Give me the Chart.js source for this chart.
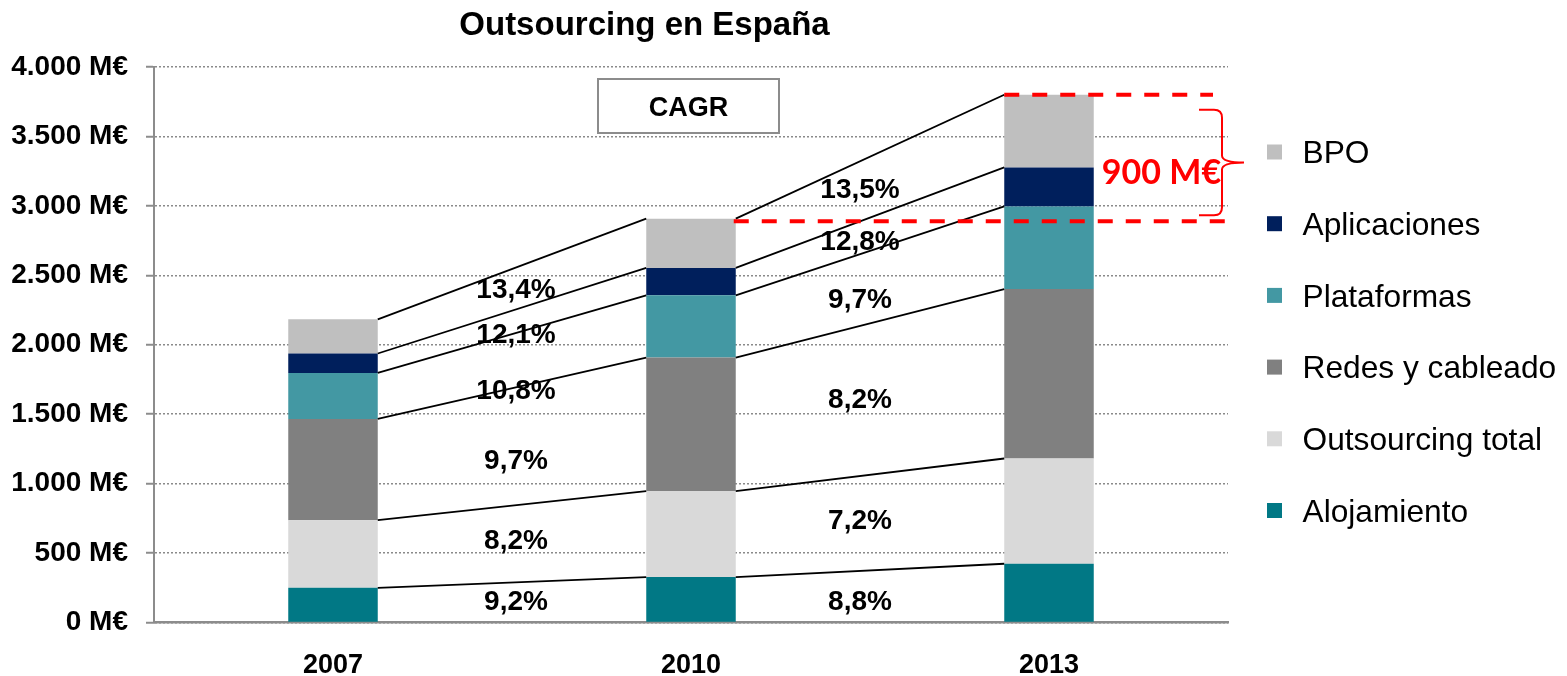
<!DOCTYPE html>
<html><head><meta charset="utf-8">
<script src="https://cdn.jsdelivr.net/npm/chart.js@4.4.1/dist/chart.umd.min.js"></script>
<style>html,body{margin:0;padding:0;background:#fff}#wrap{width:1567px;height:676px;position:relative}canvas{display:block}</style>
</head><body><div id="wrap"><canvas id="c" width="1567" height="676"></canvas></div>
<script>
// ---- data ----
const years = ['2007', '2010', '2013'];
const alojamiento = [250, 327, 423];
const outsourcingTotal = [487, 619, 758];
const redesCableado = [729, 962, 1220];
const plataformas = [331, 448, 595];
const aplicaciones = [140, 197, 281];
const bpo = [246, 355, 523];
const yTicks = [0, 500, 1000, 1500, 2000, 2500, 3000, 3500, 4000];
const cagr0710 = ['9,2%', '8,2%', '9,7%', '10,8%', '12,1%', '13,4%'];
const cagr1013 = ['8,8%', '7,2%', '8,2%', '9,7%', '12,8%', '13,5%'];
const cagrLabelAt0710 = [162, 601, 1180, 1680, 2083, 2406];
const cagrLabelAt1013 = [162, 745, 1615, 2335, 2755, 3127];
const gapLevels = [2890, 3800];
const gapLabel = '900 M€';
const boxLabel = 'CAGR';
const titleText = 'Outsourcing en España';

const FONT = "'Liberation Sans', Arial, sans-serif";

function fmtThousands(v) {
  if (v >= 1000) return Math.floor(v / 1000) + '.' + String(v % 1000).padStart(3, '0');
  return String(v);
}

function textC(ctx, txt, x, yMid, size, weight, family, align, capRatio) {
  ctx.font = (weight || 'normal') + ' ' + size + 'px ' + (family || FONT);
  ctx.textAlign = align || 'center';
  ctx.textBaseline = 'alphabetic';
  ctx.fillText(txt, x, yMid + (capRatio || 0.716) * size / 2);
}

const overlay = {
  id: 'overlay',
  afterDatasetsDraw(chart) {
    const ctx = chart.ctx;
    const ys = chart.scales.y, xs = chart.scales.x;
    const area = chart.chartArea;
    const ds = chart.data.datasets;
    const n = ds.length;
    const cum = [];
    for (let d = 0; d < n; d++) {
      cum.push(ds[d].data.map((v, i) => v + (d > 0 ? cum[d - 1][i] : 0)));
    }
    const bar = (d, i) => chart.getDatasetMeta(d).data[i];
    ctx.save();
    // connecting lines
    ctx.strokeStyle = '#000';
    ctx.lineWidth = 1.8;
    for (let d = 0; d < n; d++) {
      for (let i = 0; i < years.length - 1; i++) {
        const a = bar(d, i), b = bar(d, i + 1);
        ctx.beginPath();
        ctx.moveTo(a.x + a.width / 2, ys.getPixelForValue(cum[d][i]));
        ctx.lineTo(b.x - b.width / 2, ys.getPixelForValue(cum[d][i + 1]));
        ctx.stroke();
      }
    }
    // CAGR labels
    ctx.fillStyle = '#000';
    const xA = (xs.getPixelForValue(0) + xs.getPixelForValue(1)) / 2 + 4;
    const xB = (xs.getPixelForValue(1) + xs.getPixelForValue(2)) / 2 - 10;
    for (let d = 0; d < n; d++) {
      textC(ctx, cagr0710[d], xA, ys.getPixelForValue(cagrLabelAt0710[d]), 28, 'bold');
      textC(ctx, cagr1013[d], xB, ys.getPixelForValue(cagrLabelAt1013[d]), 28, 'bold');
    }
    // red dashed lines
    const yLow = ys.getPixelForValue(gapLevels[0]);
    const yUp = ys.getPixelForValue(gapLevels[1]);
    const b10 = bar(n - 1, 1), b13 = bar(n - 1, 2);
    ctx.strokeStyle = '#FF0000';
    ctx.lineWidth = 4;
    ctx.setLineDash([15, 13]);
    ctx.beginPath();
    ctx.moveTo(b13.x - b13.width / 2, yUp);
    ctx.lineTo(area.right - 15, yUp);
    ctx.stroke();
    ctx.beginPath();
    ctx.moveTo(b10.x + b10.width / 2 - 2, yLow);
    ctx.lineTo(area.right - 2, yLow);
    ctx.stroke();
    ctx.setLineDash([]);
    // brace
    const bt = yUp + 15, bb = yLow - 6, bm = (bt + bb) / 2;
    const sx = area.right - 6, hx = sx - 23, tx = sx + 22;
    ctx.lineWidth = 2;
    ctx.beginPath();
    ctx.moveTo(hx, bt);
    ctx.lineTo(sx - 8, bt);
    ctx.quadraticCurveTo(sx, bt, sx, bt + 8);
    ctx.lineTo(sx, bm - 7);
    ctx.quadraticCurveTo(sx, bm, tx, bm);
    ctx.quadraticCurveTo(sx, bm, sx, bm + 7);
    ctx.lineTo(sx, bb - 8);
    ctx.quadraticCurveTo(sx, bb, sx - 8, bb);
    ctx.lineTo(hx, bb);
    ctx.stroke();
    ctx.fillStyle = '#FF0000';
    textC(ctx, gapLabel, 1161.5, bm + 9, 34, 'bold', "Lato, 'Open Sans', sans-serif", 'center', 0.72);
    // CAGR box
    ctx.fillStyle = '#fff';
    ctx.fillRect(598, 79, 181, 54);
    ctx.strokeStyle = '#8c8c8c';
    ctx.lineWidth = 2;
    ctx.strokeRect(598, 79, 181, 54);
    ctx.fillStyle = '#000';
    textC(ctx, boxLabel, 688.5, 106, 27, 'bold');
    // title
    textC(ctx, titleText, 644.5, 23.5, 33, 'bold');
    // legend
    for (let d = n - 1, k = 0; d >= 0; d--, k++) {
      const cy = 152 + k * 71.7;
      ctx.fillStyle = ds[d].backgroundColor;
      ctx.fillRect(1267, cy - 7.5, 15, 15);
      ctx.fillStyle = '#000';
      textC(ctx, ds[d].label, 1302.5, cy, 31.7, 'normal', FONT, 'left');
    }
    ctx.restore();
  }
};

new Chart(document.getElementById('c'), {
  type: 'bar',
  data: {
    labels: years,
    datasets: [
      { label: 'Alojamiento', data: alojamiento, backgroundColor: '#017885' },
      { label: 'Outsourcing total', data: outsourcingTotal, backgroundColor: '#D9D9D9' },
      { label: 'Redes y cableado', data: redesCableado, backgroundColor: '#808080' },
      { label: 'Plataformas', data: plataformas, backgroundColor: '#4398A3' },
      { label: 'Aplicaciones', data: aplicaciones, backgroundColor: '#001F5C' },
      { label: 'BPO', data: bpo, backgroundColor: '#BFBFBF' }
    ]
  },
  options: {
    responsive: false,
    animation: false,
    devicePixelRatio: 1,
    layout: { padding: { top: 67, right: 339, left: 0, bottom: 0 } },
    datasets: { bar: { barPercentage: 0.25, categoryPercentage: 1.0 } },
    plugins: { legend: { display: false }, title: { display: false }, tooltip: { enabled: false } },
    scales: {
      x: {
        stacked: true,
        offset: true,
        grid: { display: false, drawTicks: false },
        border: { display: true, color: '#8c8c8c', width: 2.5 },
        ticks: { color: '#000', font: { family: FONT, weight: 'bold', size: 27 }, padding: 27 },
        afterFit(s) { s.height = 676 - 622.5; }
      },
      y: {
        stacked: true,
        min: 0,
        max: 4000,
        afterBuildTicks(s) { s.ticks = yTicks.map(v => ({ value: v })); },
        ticks: { color: '#000', font: { family: FONT, weight: 'bold', size: 28 }, padding: 18,
          callback: v => fmtThousands(v) + ' M€' },
        grid: { color: '#8a8a8a', lineWidth: 1.5, tickLength: 8, tickColor: '#8c8c8c', tickWidth: 2, drawTicks: true },
        border: { display: true, color: '#8c8c8c', width: 2, dash: [2, 2] },
        afterFit(s) { s.width = 154; }
      }
    }
  },
  plugins: [overlay]
});
</script>
</body></html>
